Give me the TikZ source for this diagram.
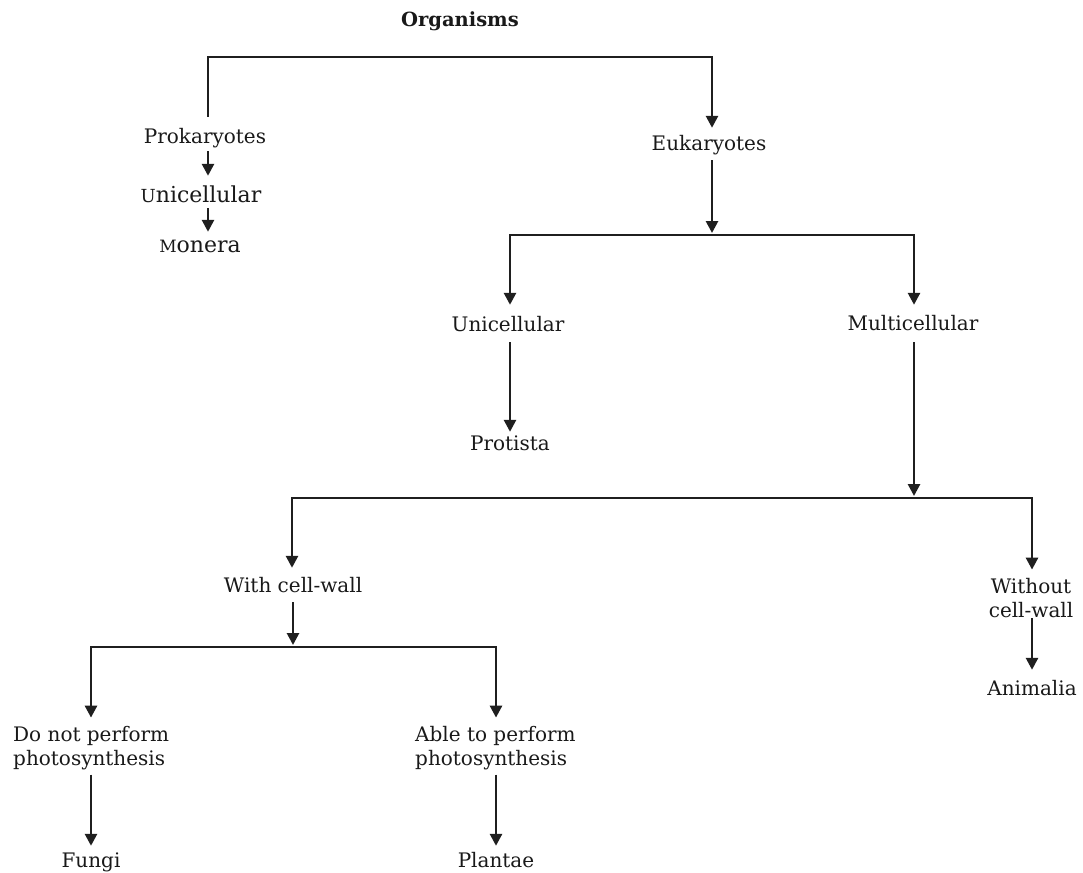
\documentclass[tikz,border=0pt]{standalone}
\usepackage{fontspec}
\setmainfont{DejaVu Serif}
\usetikzlibrary{arrows.meta}
\begin{document}
\begin{tikzpicture}[x=1pt,y=-1pt,
  lbl/.style={inner sep=0pt, anchor=base, font=\fontsize{20}{24}\selectfont, text=black!90},
  one/.style={lbl, text height=15pt, text depth=5pt},
  two/.style={lbl, anchor=base west, align=left},
  conn/.style={line width=2.7pt, draw=black!88, line join=miter},
  arr/.style={conn, -{Triangle[width=12pt,length=12pt]}}]
\useasboundingbox (0,0) rectangle (1083,872);

% labels (two-line nodes are placed by the baseline of their last line)
\node[one, font=\bfseries\fontsize{19.5}{22}\selectfont] (org) at (460,27) {Organisms};
\node[one] (prok) at (205,143) {Prokaryotes};
\node[one, font=\fontsize{22}{26}\selectfont] (uni1) at (201,202) {{\fontsize{18}{22}\selectfont U}nicellular};
\node[one, font=\fontsize{22}{26}\selectfont] (mon) at (200,252) {{\fontsize{17}{22}\selectfont M}onera};
\node[one] (euk) at (709,150) {Eukaryotes};
\node[one] (uni2) at (508,331) {Unicellular};
\node[one] (multi) at (913,330) {Multicellular};
\node[one] (prot) at (510,450) {Protista};
\node[one] (withcw) at (293,592) {With cell-wall};
\node[lbl, align=center] (withoutcw) at (1031,617) {Without\\cell-wall};
\node[one] (anim) at (1032,695) {Animalia};
\node[two] (donot) at (13,765) {Do not perform\\photosynthesis};
\node[two] (able) at (415,765) {Able to perform\\photosynthesis};
\node[one] (fungi) at (91,867) {Fungi};
\node[one] (plant) at (496,867) {Plantae};

% junctions
\coordinate (j0l) at (208,57);
\coordinate (j0r) at (712,57);
\coordinate (j1) at (712,235);
\coordinate (j1l) at (510,235);
\coordinate (j1r) at (914,235);
\coordinate (j2) at (914,498);
\coordinate (j2l) at (292,498);
\coordinate (j2r) at (1032,498);
\coordinate (j3) at (293,647);
\coordinate (j3l) at (91,647);
\coordinate (j3r) at (496,647);

% connectors
\draw[arr, shorten <=11pt, shorten >=7pt] (prok.north -| j0l) -- (j0l) -- (j0r) -- (euk.north -| j0r);
\draw[arr, shorten <=3pt, shorten >=11pt] (prok.south -| j0l) -- (uni1.north -| j0l);
\draw[arr, shorten <=1pt, shorten >=5pt] (uni1.south -| j0l) -- (mon.north -| j0l);
\draw[arr, shorten <=5pt, shorten >=2pt] (euk.south -| j1) -- (j1);
\draw[arr, shorten >=11pt] (j1) -- (j1l) -- (uni2.north -| j1l);
\draw[arr, shorten >=10pt] (j1) -- (j1r) -- (multi.north -| j1r);
\draw[arr, shorten <=6pt, shorten >=3pt] (uni2.south -| j1l) -- (prot.north -| j1l);
\draw[arr, shorten <=7pt, shorten >=2pt] (multi.south -| j2) -- (j2);
\draw[arr, shorten >=9pt] (j2) -- (j2l) -- (withcw.north -| j2l);
\draw[arr, shorten >=8pt] (j2) -- (j2r) -- (withoutcw.north -| j2r);
\draw[arr, shorten <=5pt, shorten >=2pt] (withcw.south -| j3) -- (j3);
\draw[arr, shorten >=8pt] (j3) -- (j3l) -- (donot.north -| j3l);
\draw[arr, shorten >=8pt] (j3) -- (j3r) -- (able.north -| j3r);
\draw[arr, shorten <=5pt, shorten >=6pt] (donot.south -| j3l) -- (fungi.north -| j3l);
\draw[arr, shorten <=5pt, shorten >=6pt] (able.south -| j3r) -- (plant.north -| j3r);
\draw[arr, shorten <=1pt, shorten >=10pt] (withoutcw.south -| j2r) -- (anim.north -| j2r);
\end{tikzpicture}
\end{document}
